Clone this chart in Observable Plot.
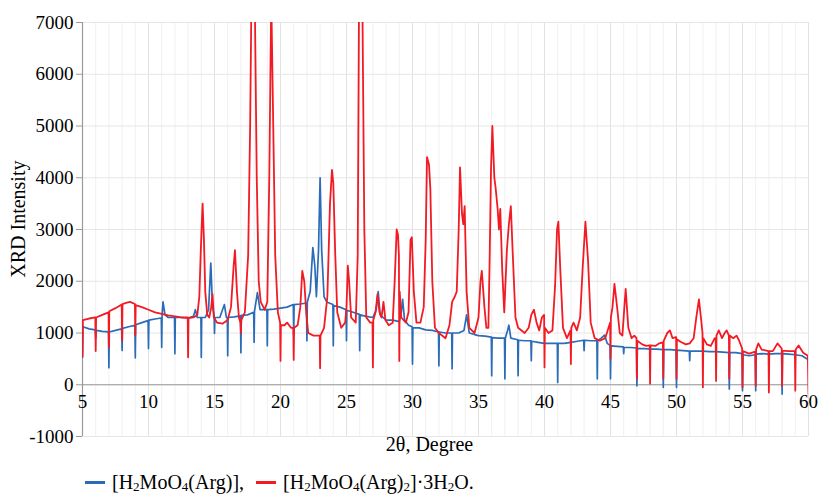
<!DOCTYPE html>
<html>
<head>
<meta charset="utf-8">
<script src="https://cdn.jsdelivr.net/npm/d3@7"></script>
<script src="https://cdn.jsdelivr.net/npm/@observablehq/plot@0.6"></script>
<style>
  html, body { margin: 0; padding: 0; background: #fff; }
  #wrap { position: relative; width: 819px; height: 497px; }
  #legend { position: absolute; left: 85px; top: 472px; font-family: "Liberation Serif", "DejaVu Serif", serif; font-size: 20px; color: #000; white-space: nowrap; line-height: 20px; }
  #legend .sw { display: inline-block; width: 20px; height: 3px; vertical-align: middle; margin-right: 7px; margin-top: -3px; }
  #legend .item { margin-right: 12px; }
  #legend sub { font-size: 13px; vertical-align: -2px; line-height: 0; }
</style>
</head>
<body>
<div id="wrap"><div id="chart"></div><div id="legend"></div></div>
<script>
// ---- data (2θ in degrees, XRD intensity) ----
const seriesNames = ["[H<sub>2</sub>MoO<sub>4</sub>(Arg)],", "[H<sub>2</sub>MoO<sub>4</sub>(Arg)<sub>2</sub>]·3H<sub>2</sub>O."];
const seriesColors = ["#2b6cb8", "#f21b24"];
const xTicks = [5, 10, 15, 20, 25, 30, 35, 40, 45, 50, 55, 60];
const yTicks = [-1000, 0, 1000, 2000, 3000, 4000, 5000, 6000, 7000];

const blueScan = [
[5.0,530],[5.03,1120],[5.5,1080],[5.97,1060],[6.0,900],[6.03,1050],[6.5,1030],[6.97,1020],[7.0,330],[7.03,1020],[7.5,1050],[7.97,1080],[8.0,660],[8.03,1090],[8.5,1120],[8.97,1150],[9.0,520],[9.03,1160],[9.5,1200],[9.97,1240],[10.0,700],[10.03,1250],[10.5,1270],[10.97,1290],[11.0,720],[11.03,1350],[11.1,1600],[11.25,1350],[11.5,1300],[11.97,1300],[12.0,600],[12.03,1300],[12.5,1300],[13.0,1290],[13.4,1320],[13.55,1450],[13.7,1300],[13.97,1300],[14.0,530],[14.03,1300],[14.3,1300],[14.55,1450],[14.72,2350],[14.85,1500],[14.97,1350],[15.0,990],[15.03,1300],[15.4,1300],[15.75,1550],[15.9,1300],[15.97,1300],[16.0,560],[16.03,1300],[16.5,1310],[16.97,1330],[17.0,620],[17.03,1340],[17.5,1350],[17.97,1400],[18.0,820],[18.03,1420],[18.25,1780],[18.45,1450],[18.97,1450],[19.0,755],[19.03,1450],[19.5,1460],[20.0,1480],[20.5,1500],[20.97,1550],[21.0,950],[21.03,1550],[21.5,1560],[21.97,1580],[22.0,850],[22.03,1600],[22.25,1800],[22.45,2650],[22.6,2300],[22.72,1700],[22.88,2600],[23.0,4000],[23.12,2600],[23.3,1700],[23.5,1600],[23.97,1550],[24.0,755],[24.03,1530],[24.5,1500],[24.97,1450],[25.0,850],[25.03,1440],[25.5,1400],[25.97,1360],[26.0,660],[26.03,1350],[26.5,1320],[27.0,1300],[27.25,1450],[27.4,1800],[27.55,1350],[28.0,1250],[28.5,1250],[29.0,1220],[29.15,1400],[29.25,1650],[29.4,1250],[29.7,1150],[29.97,1120],[30.0,400],[30.03,1100],[30.5,1100],[31.0,1060],[31.5,1050],[31.97,1020],[32.0,365],[32.03,1020],[32.5,1000],[32.97,1000],[33.0,310],[33.03,1000],[33.5,1000],[33.9,1050],[34.1,1350],[34.3,1000],[34.7,970],[35.0,950],[35.5,940],[35.97,920],[36.0,175],[36.03,910],[36.5,900],[36.97,900],[37.0,115],[37.03,900],[37.2,1050],[37.3,1150],[37.45,900],[37.97,870],[38.0,175],[38.03,860],[38.5,850],[38.97,850],[39.0,465],[39.03,840],[39.5,820],[40.0,800],[40.5,800],[40.97,800],[41.0,45],[41.03,800],[41.5,800],[42.0,820],[42.5,840],[42.97,860],[43.0,660],[43.03,860],[43.5,850],[43.97,850],[44.0,115],[44.03,850],[44.3,900],[44.55,960],[44.75,800],[44.97,760],[45.0,115],[45.03,750],[45.5,740],[45.97,730],[46.0,600],[46.03,720],[46.5,720],[46.97,710],[47.0,-20],[47.03,700],[47.5,700],[48.0,690],[48.5,690],[48.97,680],[49.0,-50],[49.03,680],[49.5,680],[49.97,670],[50.0,-50],[50.03,670],[50.5,660],[50.97,650],[51.0,465],[51.03,650],[51.5,650],[52.0,650],[52.5,640],[53.0,640],[53.5,630],[53.97,620],[54.0,-80],[54.03,620],[54.5,620],[54.97,600],[55.0,-115],[55.03,580],[55.5,560],[55.97,580],[56.0,-115],[56.03,590],[56.5,600],[57.0,590],[57.5,600],[57.97,600],[58.0,-180],[58.03,600],[58.5,590],[59.0,580],[59.5,560],[60.0,480]
];

const redScan = [
[5.0,550],[5.03,1250],[5.5,1280],[5.97,1300],[6.0,650],[6.03,1300],[6.5,1350],[6.97,1400],[7.0,720],[7.03,1420],[7.5,1480],[7.97,1550],[8.0,850],[8.03,1560],[8.3,1580],[8.6,1600],[8.97,1560],[9.0,950],[9.03,1540],[9.5,1500],[10,1450],[10.5,1400],[11,1370],[11.5,1340],[12,1320],[12.5,1300],[12.97,1300],[13.0,530],[13.03,1290],[13.4,1300],[13.7,1350],[13.85,1700],[13.95,2500],[14.05,3200],[14.1,3500],[14.2,2800],[14.3,1800],[14.45,1350],[14.6,1300],[14.75,1500],[14.85,1750],[14.95,1300],[15.2,1200],[15.6,1180],[16.0,1250],[16.25,1500],[16.45,2300],[16.55,2600],[16.7,1800],[16.85,1300],[16.97,1200],[17.0,1000],[17.03,1250],[17.3,1400],[17.55,2500],[17.7,5000],[17.8,7500],[18.05,7500],[18.2,4000],[18.35,2000],[18.5,1600],[18.8,1450],[19.0,1600],[19.15,4000],[19.3,7500],[19.45,5000],[19.6,2500],[19.8,1400],[19.97,1200],[20.0,460],[20.03,1150],[20.3,1150],[20.5,1200],[20.8,1100],[20.97,1100],[21.0,480],[21.03,1100],[21.3,1150],[21.5,1500],[21.65,2200],[21.8,2000],[21.95,1400],[22.1,1000],[22.5,950],[22.97,950],[23.0,320],[23.03,950],[23.3,1100],[23.55,1700],[23.75,3500],[23.9,4150],[24.0,3900],[24.15,2500],[24.3,1400],[24.6,1100],[24.9,1200],[25.0,1500],[25.1,2300],[25.2,2000],[25.35,1300],[25.7,1200],[25.85,2500],[25.95,7500],[26.2,7500],[26.35,3000],[26.5,1300],[26.8,1200],[26.97,1200],[27.0,335],[27.03,1250],[27.2,1400],[27.35,1750],[27.5,1400],[27.65,1300],[27.8,1600],[27.95,1250],[28.2,1150],[28.5,1200],[28.65,2000],[28.8,3000],[28.9,2900],[28.97,2500],[29.0,460],[29.03,1800],[29.15,1300],[29.5,1200],[29.7,1400],[29.85,2800],[29.95,2850],[30.1,1800],[30.3,1200],[30.6,1200],[30.85,1500],[31.0,2800],[31.1,4400],[31.25,4250],[31.35,3800],[31.5,2000],[31.7,1100],[32.0,1000],[32.5,900],[32.8,1150],[33.0,1600],[33.2,1700],[33.35,1800],[33.5,3000],[33.6,4200],[33.75,3300],[33.85,3100],[33.95,3450],[34.1,1800],[34.3,1100],[34.7,1000],[35.0,1300],[35.15,2000],[35.25,2200],[35.45,1500],[35.6,1100],[35.75,1100],[35.85,2500],[35.95,4200],[36.05,5000],[36.2,4000],[36.3,3800],[36.45,3400],[36.55,3000],[36.65,3400],[36.8,2200],[36.95,1400],[37.15,2600],[37.3,3100],[37.45,3450],[37.6,2500],[37.8,1300],[38.0,1100],[38.5,1000],[38.8,1100],[39.0,1350],[39.2,1450],[39.4,1200],[39.6,1050],[39.8,1300],[39.97,1350],[40.0,335],[40.03,1100],[40.3,1000],[40.6,1050],[40.8,1900],[40.95,3000],[41.05,3150],[41.2,2200],[41.4,1100],[41.7,900],[41.97,1050],[42.0,400],[42.03,1100],[42.2,1200],[42.45,1050],[42.7,1300],[42.9,2300],[43.1,3150],[43.3,2400],[43.5,1200],[43.8,900],[44.2,850],[44.6,900],[44.85,1100],[44.97,1200],[45.0,500],[45.03,1300],[45.15,1500],[45.3,1950],[45.5,1500],[45.7,1000],[45.9,950],[46.05,1500],[46.15,1850],[46.35,1100],[46.6,900],[46.8,950],[46.97,900],[47.0,115],[47.03,850],[47.4,780],[47.7,750],[47.97,760],[48.0,20],[48.03,760],[48.4,750],[48.7,800],[48.97,820],[49.0,115],[49.03,850],[49.3,1000],[49.5,1050],[49.7,900],[49.97,920],[50.0,115],[50.03,880],[50.3,830],[50.7,780],[51.0,800],[51.3,900],[51.5,1300],[51.7,1650],[51.85,1300],[51.97,1000],[52.0,-50],[52.03,900],[52.3,780],[52.6,750],[52.9,900],[52.97,900],[53.0,75],[53.03,950],[53.2,1050],[53.45,900],[53.65,1000],[53.8,1050],[53.97,950],[54.0,115],[54.03,950],[54.3,900],[54.55,950],[54.75,850],[54.97,700],[55.0,-50],[55.03,650],[55.5,600],[55.97,640],[56.0,-20],[56.03,680],[56.2,800],[56.45,680],[56.97,650],[57.0,-150],[57.03,650],[57.3,650],[57.65,800],[57.97,700],[58.0,-20],[58.03,660],[58.5,650],[58.97,650],[59.0,-115],[59.03,680],[59.25,760],[59.6,620],[59.95,560],[60.0,-180]
];

const font = "'Liberation Serif', 'DejaVu Serif', serif";
const minorX = d3.range(5, 61);

const chart = Plot.plot({
  width: 819,
  height: 472,
  marginLeft: 82,
  marginRight: 11,
  marginTop: 22,
  marginBottom: 36,
  style: { fontFamily: font, background: "#fff", color: "#000" },
  x: { domain: [5, 60], axis: null },
  y: { domain: [-1000, 7000], axis: null },
  marks: [
    Plot.ruleX(minorX, { stroke: "#f0f0f0", strokeWidth: 1 }),
    Plot.ruleX(xTicks, { stroke: "#e2e2e2", strokeWidth: 1 }),
    Plot.ruleY(yTicks, { stroke: "#e6e6e6", strokeWidth: 1 }),
    Plot.ruleY([0], { stroke: "#9a9a9a", strokeWidth: 1.2 }),
    Plot.ruleX([5], { stroke: "#9a9a9a", strokeWidth: 1.2 }),
    Plot.axisY({ ticks: yTicks, tickSize: 6, tickPadding: 3, fontSize: 19, fontFamily: font, stroke: "#9a9a9a", fill: "#000", tickFormat: d => String(d), label: null }),
    Plot.text(xTicks, { x: d => d, y: () => 0, dy: 17, text: d => String(d), fontSize: 19, fontFamily: font, fill: "#000" }),
    Plot.line(blueScan, { x: d => d[0], y: d => d[1], stroke: seriesColors[0], strokeWidth: 1.7, clip: true }),
    Plot.line(redScan, { x: d => d[0], y: d => d[1], stroke: seriesColors[1], strokeWidth: 1.8, clip: true }),
    Plot.text(["2θ, Degree"], { frameAnchor: "bottom", dx: -16, dy: 14, fontSize: 20, fontFamily: font, fill: "#000" }),
    Plot.text(["XRD Intensity"], { frameAnchor: "left", y: () => 3200, dx: -64, rotate: -90, textAnchor: "middle", fontSize: 20, fontFamily: font, fill: "#000" })
  ]
});
document.getElementById("chart").appendChild(chart);

const legend = document.getElementById("legend");
legend.innerHTML = seriesNames.map((n, i) =>
  `<span class="item"><span class="sw" style="background:${seriesColors[i]}"></span>${n}</span>`).join("");
</script>
</body>
</html>
